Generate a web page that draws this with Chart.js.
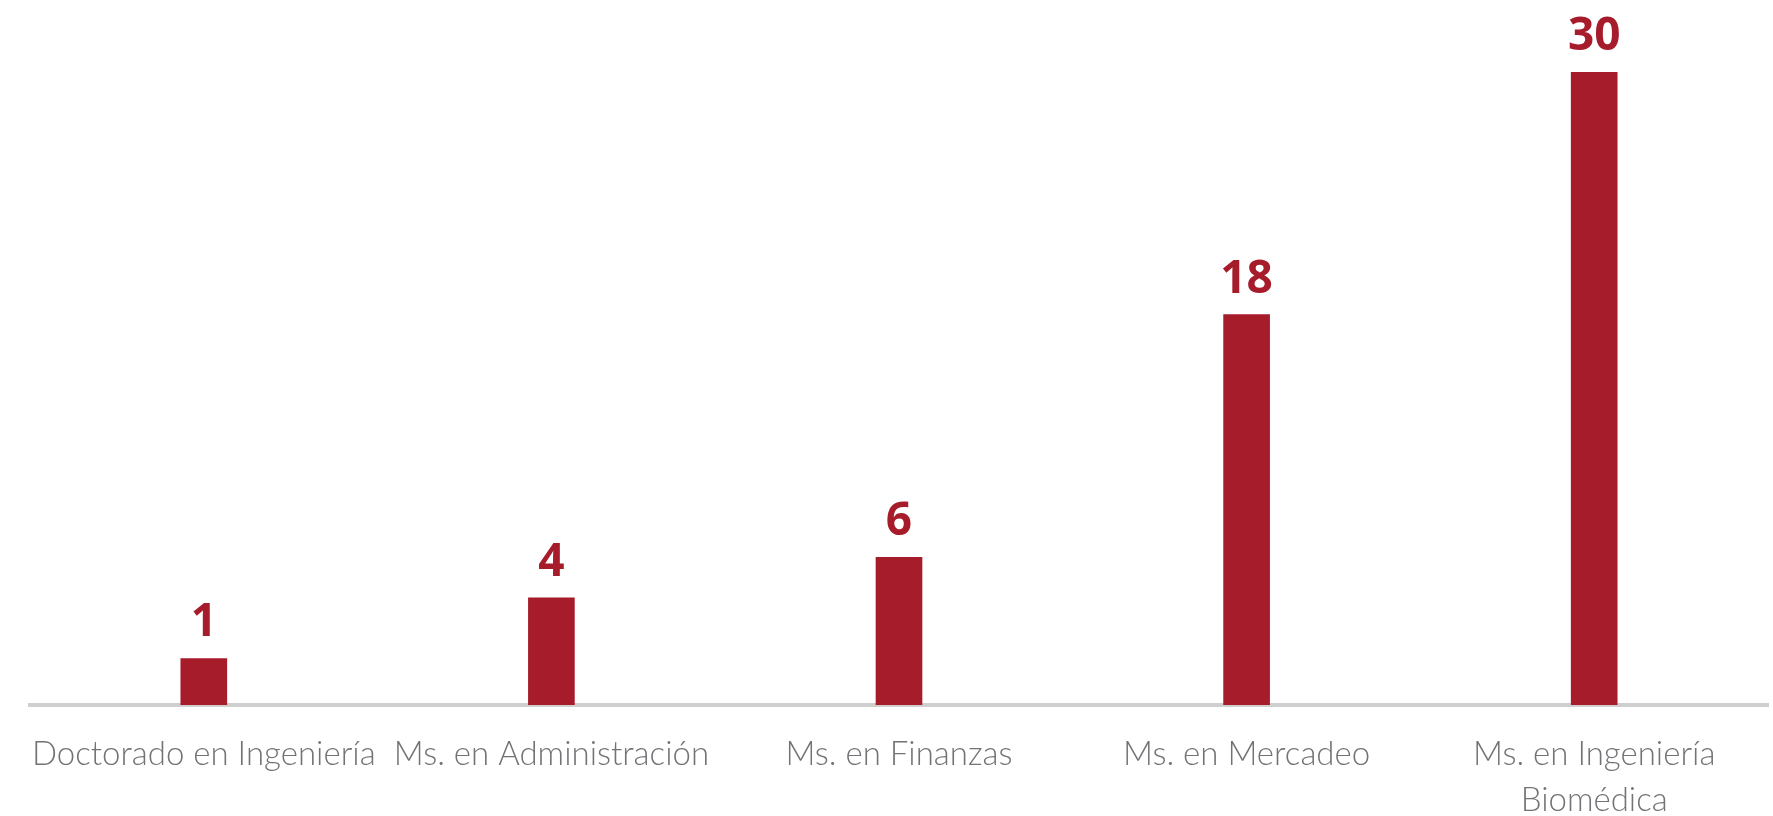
<!DOCTYPE html>
<html>
<head>
<meta charset="utf-8">
<script src="https://cdn.jsdelivr.net/npm/chart.js@4"></script>
<style>
  html, body { margin: 0; padding: 0; background: #ffffff; }
  #wrap { width: 1773px; height: 816px; }
</style>
</head>
<body>
<div id="wrap"><canvas id="grafica"></canvas></div>
<script>
// datos del gráfico
const programas = [
    "Doctorado en Ingeniería",
    "Ms. en Administración",
    "Ms. en Finanzas",
    "Ms. en Mercadeo",
    ["Ms. en Ingeniería", "Biomédica"]
];
const estudiantes = [1, 4, 6, 18, 30];

const rojo = "#a61c2b";

// etiquetas con el valor encima de cada barra
const etiquetasValor = {
    id: "etiquetasValor",
    afterDatasetsDraw(chart) {
        const ctx = chart.ctx;
        const meta = chart.getDatasetMeta(0);
        ctx.save();
        ctx.fillStyle = rojo;
        ctx.font = "bold 46px 'Open Sans'";
        ctx.textAlign = "center";
        ctx.textBaseline = "alphabetic";
        meta.data.forEach((bar, i) => {
            ctx.fillText(String(estudiantes[i]), bar.x, bar.y - 22);
        });
        ctx.restore();
    }
};

const ctx = document.getElementById("grafica").getContext("2d");

new Chart(ctx, {
    type: "bar",
    data: {
        labels: programas,
        datasets: [{
            data: estudiantes,
            backgroundColor: rojo,
            barThickness: 46,
            base: -1.3
        }]
    },
    options: {
        responsive: true,
        maintainAspectRatio: false,
        animation: false,
        layout: { padding: { top: 72, left: 30, right: 5, bottom: 0 } },
        plugins: {
            legend: { display: false },
            tooltip: { enabled: false }
        },
        scales: {
            x: {
                grid: { display: false, drawTicks: false },
                border: { display: true, color: "#cfcfcf", width: 4 },
                ticks: {
                    color: "#727376",
                    font: { family: "Lato", size: 33, weight: "300", lineHeight: 1.4 },
                    padding: 26,
                    autoSkip: false,
                    maxRotation: 0,
                    minRotation: 0
                },
                // alto fijo del eje para que la línea base quede en su sitio
                afterFit(scale) {
                    scale.height = 111;
                }
            },
            y: {
                display: false,
                min: -1.3,
                max: 30
            }
        }
    },
    plugins: [etiquetasValor]
});
</script>
</body>
</html>
